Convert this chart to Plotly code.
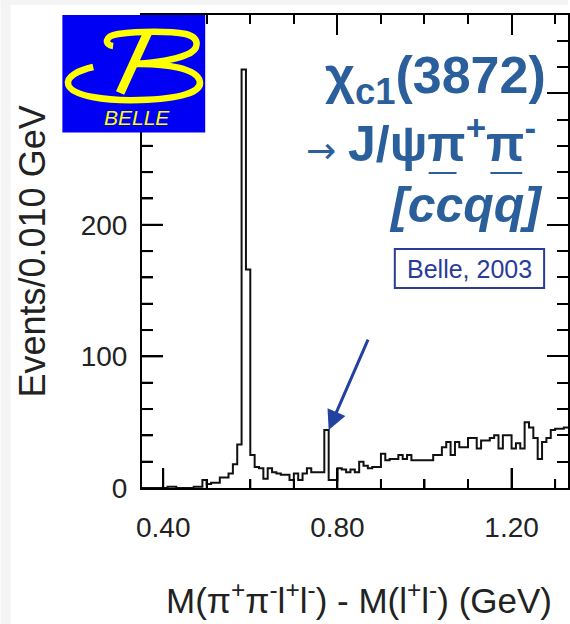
import plotly.graph_objects as go

# Histogram of M(pi+ pi- l+ l-) - M(l+ l-), 10 MeV bins starting at 0.35 GeV
BIN_LO = 0.35
BIN_W = 0.010
counts = [
    0, 0, 0, 0, 0, 0, 1, 1, 0, 0,          # 0.35 - 0.44
    0, 0, 1, 1, 6, 3, 4, 4, 8, 8,          # 0.45 - 0.54
    11, 18, 33, 318, 166, 25, 16, 15, 7, 15,   # 0.55 - 0.64
    12, 11, 10, 10, 6, 11, 6, 11, 15, 12,  # 0.65 - 0.74
    12, 12, 44, 6, 6, 15, 14, 12, 14, 12,  # 0.75 - 0.84
    20, 17, 15, 16, 16, 26, 21, 22, 22, 25,  # 0.85 - 0.94
    22, 25, 21, 21, 21, 21, 21, 25, 25, 31,  # 0.95 - 1.04
    35, 25, 35, 31, 31, 38, 38, 30, 36, 36,  # 1.05 - 1.14
    38, 40, 30, 40, 40, 30, 34, 30, 50, 46,  # 1.15 - 1.24
    38, 22, 35, 38, 44, 45, 45, 46,          # 1.25 - 1.32
]
edges = [round(BIN_LO + i * BIN_W, 3) for i in range(len(counts) + 1)]

# X(3872) bin (the one the arrow points at)
x3872_bin = 42

# axis ticks: labelled every 0.4 GeV / 100 events, minor every 0.1 GeV / 20 events
X_TICK0, X_DTICK, X_MINOR = 0.40, 0.40, 0.10
Y_TICK0, Y_DTICK, Y_MINOR = 0, 100, 20

X_RANGE = [0.3513, 1.3296]
Y_RANGE = [0, 359.4]

FONT = "Liberation Sans"
INK = "#222222"
BLUE = "#2b5f9c"
NAVY = "#2a3c98"
ARROW = "#2241a0"
LOGO_BLUE = "#0000f5"
LOGO_YELLOW = "#ffff00"

# tick lengths in pixels
X_MAJOR_LEN, X_MINOR_LEN = 20, 9
Y_MAJOR_LEN, Y_MINOR_LEN = 21, 11

# plot-area geometry in pixels (for placing decorations in paper coords)
L, R, T, B = 142, 570, 15, 488
W, H = R - L, B - T


def px(x):
    return (x - L) / W


def py(y):
    return (B - y) / H


def path(cmds):
    out = []
    for c in cmds:
        if isinstance(c, str):
            out.append(c)
        else:
            out.append(f"{px(c[0]):.5f},{py(c[1]):.5f}")
    return " ".join(out)


def ticks_at(start, step, stop):
    vals = []
    k = 0
    while True:
        v = round(start + k * step, 6)
        if v > stop:
            break
        vals.append(v)
        k += 1
    return vals


fig = go.Figure()

fig.add_trace(go.Scatter(
    x=edges,
    y=counts + [counts[-1]],
    mode="lines",
    line=dict(shape="hv", color="#111111", width=2),
    hoverinfo="skip",
    showlegend=False,
))

tick_font = dict(family=FONT, size=28, color=INK)

fig.update_layout(
    width=570,
    height=624,
    margin=dict(l=L, r=570 - R, t=T, b=624 - B),
    paper_bgcolor="white",
    plot_bgcolor="rgba(0,0,0,0)",
    showlegend=False,
    xaxis=dict(
        range=X_RANGE,
        showgrid=False, zeroline=False,
        showline=True, linecolor="black", linewidth=2, mirror="ticks",
        tickmode="linear", tick0=X_TICK0, dtick=X_DTICK, tickformat=".2f",
        ticks="inside", ticklen=X_MAJOR_LEN, tickwidth=2, tickcolor="black",
        tickfont=tick_font, ticklabelstandoff=13,
        minor=dict(tick0=X_TICK0, dtick=X_MINOR, ticks="inside",
                   ticklen=X_MINOR_LEN, tickwidth=2, tickcolor="black",
                   showgrid=False),
    ),
    yaxis=dict(
        range=Y_RANGE,
        showgrid=False, zeroline=False,
        showline=True, linecolor="black", linewidth=2, mirror="ticks",
        tickmode="linear", tick0=Y_TICK0, dtick=Y_DTICK,
        ticks="inside", ticklen=Y_MAJOR_LEN, tickwidth=2, tickcolor="black",
        tickfont=tick_font, ticklabelstandoff=7,
        minor=dict(tick0=Y_TICK0, dtick=Y_MINOR, ticks="inside",
                   ticklen=Y_MINOR_LEN, tickwidth=2, tickcolor="black",
                   showgrid=False),
    ),
)

shapes = []
# light grey page strips on the left and top edges
shapes.append(dict(type="rect", xref="paper", yref="paper",
                   x0=px(0), x1=px(10), y0=py(624), y1=py(0),
                   fillcolor="#f4f4f4", line=dict(width=0)))
shapes.append(dict(type="rect", xref="paper", yref="paper",
                   x0=px(0), x1=px(570), y0=py(5), y1=py(0),
                   fillcolor="#f4f4f4", line=dict(width=0)))

# inward tick marks along the bottom and left frame edges
x_major = [v for v in ticks_at(X_TICK0, X_DTICK, X_RANGE[1]) if v >= X_RANGE[0]]
x_minor = [v for v in ticks_at(X_TICK0, X_MINOR, X_RANGE[1])
           if v >= X_RANGE[0] and v not in x_major]
y_major = [v for v in ticks_at(Y_TICK0, Y_DTICK, Y_RANGE[1]) if v > Y_RANGE[0]]
y_minor = [v for v in ticks_at(Y_TICK0, Y_MINOR, Y_RANGE[1])
           if v > Y_RANGE[0] and v not in y_major]
for vals, ln in ((x_major, X_MAJOR_LEN), (x_minor, X_MINOR_LEN)):
    for v in vals:
        shapes.append(dict(type="line", xref="x", yref="paper",
                           x0=v, x1=v, y0=0, y1=ln / H,
                           line=dict(color="black", width=2)))
for vals, ln in ((y_major, Y_MAJOR_LEN), (y_minor, Y_MINOR_LEN)):
    for v in vals:
        shapes.append(dict(type="line", xref="paper", yref="y",
                           x0=0, x1=ln / W, y0=v, y1=v,
                           line=dict(color="black", width=2)))

# Belle logo: blue tile with a yellow script "B"
shapes.append(dict(type="rect", xref="paper", yref="paper",
                   x0=px(62), x1=px(205.5), y0=py(132.5), y1=py(15),
                   fillcolor=LOGO_BLUE, line=dict(width=0)))
b_lower = path([
    "M", (93, 67), "C", (80, 70), (65, 76), (68, 85),
    "C", (72, 96), (105, 101), (140, 100),
    "C", (180, 99), (203, 92), (200, 81),
    "C", (197, 69), (168, 63), (133, 64),
])
b_upper = path([
    "M", (113, 46), "C", (104, 45), (104, 36), (118, 34),
    "C", (140, 31), (170, 31), (186, 34),
    "C", (201, 38), (200, 50), (186, 55),
    "C", (172, 61), (150, 63), (133, 64),
])
b_stem = path(["M", (148, 32), "L", (120, 93)])
for p, w in ((b_lower, 6.5), (b_upper, 6.5), (b_stem, 9)):
    shapes.append(dict(type="path", xref="paper", yref="paper",
                       path=p, fillcolor="rgba(0,0,0,0)",
                       line=dict(color=LOGO_YELLOW, width=w)))

# bars over the anti-quarks in [c c-bar q q-bar]
for x0, x1 in ((430, 458), (492, 524)):
    shapes.append(dict(type="line", xref="paper", yref="paper",
                       x0=px(x0), x1=px(x1), y0=py(173), y1=py(173),
                       line=dict(color=BLUE, width=2)))

# reference box
shapes.append(dict(type="rect", xref="paper", yref="paper",
                   x0=px(396), x1=px(546), y0=py(288), y1=py(249),
                   fillcolor="white", line=dict(color=NAVY, width=2)))

for s in shapes:
    s["layer"] = "above"
fig.update_layout(shapes=shapes)

big = dict(family=FONT, size=50, color=BLUE)
ann = [
    dict(text="<i>BELLE</i>", x=px(137), y=py(117),
         font=dict(family=FONT, size=21, color=LOGO_YELLOW)),
    dict(text="<b>χ<sub>c1</sub>(3872)</b>", x=px(550), y=py(79),
         xanchor="right", font=dict(family=FONT, size=52, color=BLUE)),
    dict(text="→", x=px(322), y=py(150),
         font=dict(family="DejaVu Sans", size=36, color=BLUE)),
    dict(text="<b>J/ψπ<sup>+</sup>π<sup>-</sup></b>", x=px(540), y=py(140),
         xanchor="right", font=big),
    dict(text="<b><i>[ccqq]</i></b>", x=px(547), y=py(205),
         xanchor="right", font=big),
    dict(text="Belle, 2003", x=px(471), y=py(268.5),
         font=dict(family=FONT, size=25, color=NAVY)),
    dict(text="Events/0.010 GeV", textangle=-90, x=px(31), y=py(252),
         font=dict(family=FONT, size=36, color=INK)),
    dict(text="M(π<sup>+</sup>π<sup>-</sup>l<sup>+</sup>l<sup>-</sup>) - "
              "M(l<sup>+</sup>l<sup>-</sup>) (GeV)",
         x=px(360), y=py(598),
         font=dict(family=FONT, size=35, color=INK)),
]
for a in ann:
    a.setdefault("xref", "paper")
    a.setdefault("yref", "paper")
    a.setdefault("showarrow", False)
    a.setdefault("xanchor", "center")
    a.setdefault("yanchor", "middle")

# arrow to the top of the X(3872) bin
ann.append(dict(
    x=edges[x3872_bin + 1], y=counts[x3872_bin], xref="x", yref="y",
    text="", showarrow=True, ax=40, ay=-92,
    arrowhead=2, arrowsize=1.3, arrowwidth=3, arrowcolor=ARROW, standoff=0,
))
fig.update_layout(annotations=ann)

fig.write_html("out.html")
